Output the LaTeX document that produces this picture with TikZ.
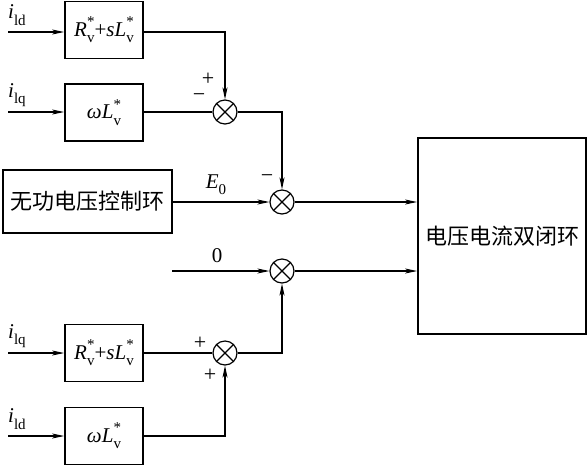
\documentclass[tikz,border=0pt]{standalone}
\usepackage{fontspec}
\setmainfont{Liberation Serif}
\newfontfamily\cjk{Noto Sans CJK SC}
\usetikzlibrary{arrows.meta}
\newcommand\subsupv{\makebox[0pt][l]{\raisebox{0.45em}{\fontsize{15}{15}\selectfont *}}\raisebox{-0.3em}{\fontsize{15}{15}\selectfont v}}
\newcommand\lowsub[1]{\raisebox{-0.3em}{\fontsize{15}{15}\selectfont #1}}
\begin{document}
\begin{tikzpicture}[x=1pt,y=-1pt,
  blk/.style={draw,line width=1.8pt,minimum width=78pt,minimum height=57pt,inner sep=0pt,font=\fontsize{21}{23}\selectfont},
  sumj/.style={draw,circle,line width=1.2pt,minimum size=24pt,inner sep=0pt,
    path picture={\draw[line width=1.2pt] (path picture bounding box.north west) -- (path picture bounding box.south east)
      (path picture bounding box.north east) -- (path picture bounding box.south west);}},
  con/.style={line width=1.1pt},
  arr/.style={con,-{Stealth[length=12pt,width=5pt,inset=3pt]}},
  lbl/.style={font=\fontsize{21}{23}\selectfont,inner sep=0pt},
  sgn/.style={font=\fontsize{22}{24}\selectfont,inner sep=0pt}]
\useasboundingbox (0,0) rectangle (588,467);
\node[blk] (b1) at (104,30) {\textit{R}\subsupv{+}\textit{sL}\subsupv};
\node[blk] (b2) at (104,112.5) {\textit{ωL}\subsupv};
\node[blk,minimum width=169pt,minimum height=63pt,font=\cjk\fontsize{22}{24}\selectfont] (b3) at (87.5,201.5) {无功电压控制环};
\node[blk] (b4) at (104,353) {\textit{R}\subsupv{+}\textit{sL}\subsupv};
\node[blk] (b5) at (104,436) {\textit{ωL}\subsupv};
\node[blk,minimum width=168pt,minimum height=196pt,font=\cjk\fontsize{22}{24}\selectfont] (big) at (502,236) {电压电流双闭环};
\node[sumj] (s1) at (225,112) {};
\node[sumj] (s2) at (282,202) {};
\node[sumj] (s3) at (282,271) {};
\node[sumj] (s4) at (225,353) {};
\coordinate (in1) at (8,32);
\coordinate (in2) at (8,112);
\coordinate (in3) at (8,353);
\coordinate (in4) at (8,436);
\coordinate (in0) at (172,271);
\draw[arr] (in1) -- (b1.west |- in1);
\draw[arr] (in2) -- (b2.west |- in2);
\draw[arr] (in3) -- (b4.west |- in3);
\draw[arr] (in4) -- (b5.west |- in4);
\node[lbl,anchor=west] (l1) at (8,15) {\textit{i}\lowsub{ld}};
\node[lbl,anchor=west] (l2) at (8,95) {\textit{i}\lowsub{lq}};
\node[lbl,anchor=west] (l3) at (8,336) {\textit{i}\lowsub{lq}};
\node[lbl,anchor=west] (l4) at (8,419) {\textit{i}\lowsub{ld}};
\draw[arr] (b1.east |- in1) -| (s1.north);
\draw[con] (b2.east |- s1) -- (s1.west);
\draw[arr] (s1.east) -| (s2.north);
\draw[arr] (b3.east |- s2) -- (s2.west);
\draw[arr] (in0) -- (s3.west);
\draw[con] (b4.east |- s4) -- (s4.west);
\draw[arr] (b5.east |- in4) -| (s4.south);
\draw[arr] (s4.east) -| (s3.south);
\draw[arr] (s2.east) -- (big.west |- s2);
\draw[arr] (s3.east) -- (big.west |- s3);
\node[sgn] (p1) at (208,79) {+};
\node[sgn] (m1) at (199,98) {−};
\node[lbl] (e0) at (216,185) {\textit{E}\lowsub{0}};
\node[sgn] (m2) at (267,179) {−};
\node[lbl] (z0) at (217,256) {0};
\node[sgn] (p2) at (200,343) {+};
\node[sgn] (p3) at (210,375) {+};
\end{tikzpicture}
\end{document}
